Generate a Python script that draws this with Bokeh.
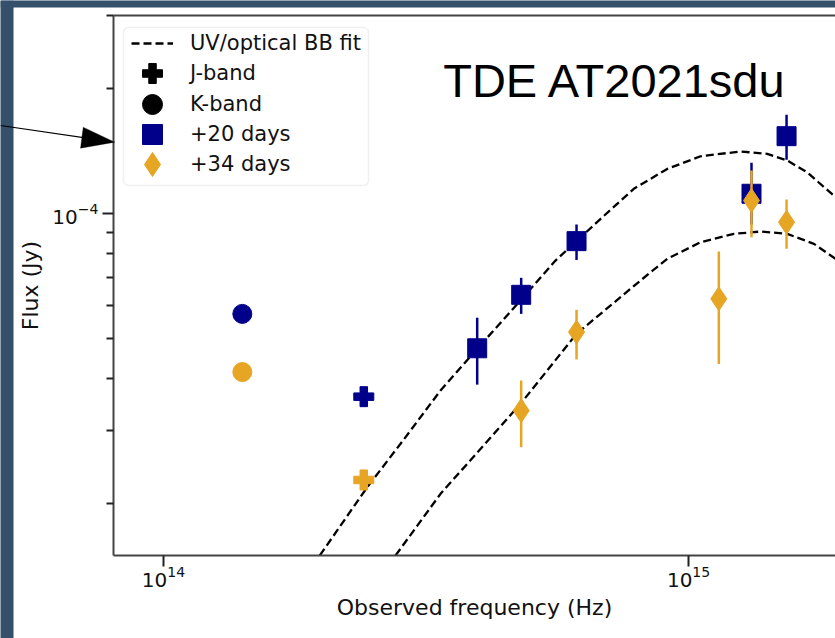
import numpy as np
from bokeh.plotting import figure
from bokeh.models import (Range1d, LinearAxis, FixedTicker, Legend, LegendItem,
                          Label, BoxAnnotation, PolyAnnotation)
from bokeh.embed import file_html
from bokeh.resources import INLINE

# ---------------- data ----------------
k_nu = [1.413e14]
k_flux_20 = [5.73e-5]
k_flux_34 = [4.15e-5]

j_nu = [2.407e14]
j_flux_20 = [3.62e-5]
j_flux_34 = [2.28e-5]

d20_nu = [3.958e14, 4.800e14, 6.119e14, 1.318e15, 1.537e15]
d20_flux = [4.735e-5, 6.37e-5, 8.58e-5, 1.116e-4, 1.536e-4]
d20_lo = [3.87e-5, 5.73e-5, 7.73e-5, 9.41e-5, 1.347e-4]
d20_hi = [5.61e-5, 7.00e-5, 9.41e-5, 1.325e-4, 1.729e-4]

d34_nu = [4.800e14, 6.119e14, 1.142e15, 1.318e15, 1.537e15]
d34_flux = [3.35e-5, 5.18e-5, 6.23e-5, 1.075e-4, 9.53e-5]
d34_lo = [2.735e-5, 4.45e-5, 4.34e-5, 8.77e-5, 8.22e-5]
d34_hi = [3.96e-5, 5.86e-5, 8.10e-5, 1.269e-4, 1.081e-4]

fit20_nu = [1.985e14, 2.443e14, 2.828e14, 3.370e14, 3.958e14, 4.786e14,
            5.580e14, 6.800e14, 7.866e14, 9.108e14, 1.054e15, 1.256e15, 1.412e15,
            1.542e15, 1.683e15, 1.905e15]
fit20_flux = [1.50e-5, 2.190e-5, 2.787e-5, 3.746e-5, 4.721e-5, 6.172e-5,
              7.703e-5, 9.709e-5, 1.147e-4, 1.281e-4, 1.374e-4, 1.411e-4, 1.393e-4,
              1.342e-4, 1.257e-4, 1.095e-4]

fit34_nu = [2.767e14, 3.370e14, 4.786e14, 6.119e14, 7.420e14, 8.101e14,
            9.108e14, 1.054e15, 1.220e15, 1.371e15, 1.542e15, 1.733e15, 1.905e15]
fit34_flux = [1.50e-5, 2.111e-5, 3.478e-5, 5.130e-5, 6.286e-5, 6.896e-5,
              7.776e-5, 8.527e-5, 8.935e-5, 9.048e-5, 8.935e-5, 8.453e-5, 7.776e-5]

x_ticks = [1e14, 1e15]
y_ticks = [1e-4]
y_minor_ticks = [2e-5, 3e-5, 4e-5, 5e-5, 6e-5, 7e-5, 8e-5, 9e-5, 2e-4, 3e-4]

# axes box (data limits of the original plot) and the whole slide crop
x_lo, x_hi = 8.03e13, 1.905e15
y_lo, y_hi = 1.5e-5, 3.0e-4
x_view_lo = 4.893e13
y_view_lo, y_view_hi = 9.461e-6, 3.261e-4

title_text = "TDE AT2021sdu"
x_label = "Observed frequency (Hz)"
y_label = "Flux (Jy)"
legend_labels = ["UV/optical BB fit", "J-band", "K-band", "+20 days", "+34 days"]

NAVY = "#00008B"
GOLD = "#E6A523"
SPINE = "#444444"
SLIDE = "#34506B"
FONT = "DejaVu Sans"
NAN = float("nan")

# ---------------- figure ----------------
# The frame covers the whole canvas (the slide margin and arrow live in it too);
# the axes are pinned at the original plot-box edges.
p = figure(width=835, height=638, x_axis_type="log", y_axis_type="log",
           x_range=Range1d(x_view_lo, x_hi), y_range=Range1d(y_view_lo, y_view_hi),
           output_backend="svg", toolbar_location=None,
           min_border_left=0, min_border_right=0, min_border_top=0,
           min_border_bottom=0)
p.grid.visible = False
p.outline_line_color = None
p.background_fill_color = "white"
p.border_fill_color = "white"

main_x = p.xaxis[0]
main_y = p.yaxis[0]


def bare_axis(**kw):
    return LinearAxis(ticker=FixedTicker(ticks=[]), major_tick_in=0, major_tick_out=0,
                      minor_tick_in=0, minor_tick_out=0, major_label_standoff=0, **kw)


for ax in (main_x, main_y):
    ax.axis_line_color = SPINE
    ax.axis_line_width = 2
    ax.major_tick_line_color = "#222222"
    ax.minor_tick_line_color = "#222222"
    ax.major_tick_line_width = 2
    ax.minor_tick_line_width = 2
    ax.major_tick_in = 0
    ax.major_tick_out = 11
    ax.minor_tick_in = 0
    ax.minor_tick_out = 7
    ax.major_label_text_font = FONT
    ax.major_label_text_font_size = "20px"
    ax.major_label_text_color = "#111111"
    ax.axis_label_text_font = FONT
    ax.axis_label_text_font_size = "22px"
    ax.axis_label_text_font_style = "normal"
    ax.axis_label_text_color = "#111111"

main_x.ticker = FixedTicker(ticks=x_ticks, minor_ticks=[])
main_x.axis_label = x_label
main_x.major_label_standoff = 0
main_x.axis_label_standoff = 4
main_x.fixed_location = y_lo
main_x.bounds = (x_lo, x_hi)

main_y.ticker = FixedTicker(ticks=y_ticks, minor_ticks=y_minor_ticks)
main_y.axis_label = y_label
main_y.major_label_standoff = 4
main_y.axis_label_standoff = 6
main_y.fixed_location = x_lo
main_y.bounds = (y_lo, y_hi)

# top spine of the plot box
p.add_layout(bare_axis(axis_line_color=SPINE, axis_line_width=2,
                       fixed_location=y_hi, bounds=(x_lo, x_hi)), "above")

# slide background strips (left and top), drawn as thick bare axis lines
p.add_layout(bare_axis(fixed_location=x_view_lo, axis_line_color=SLIDE,
                       axis_line_width=26), "left")
p.add_layout(bare_axis(fixed_location=y_view_hi, axis_line_color=SLIDE,
                       axis_line_width=14), "above")

# ---------------- glyphs ----------------
r_fit20 = p.line(fit20_nu, fit20_flux, line_color="black", line_width=2.3, line_dash="8 4")
p.line(fit34_nu, fit34_flux, line_color="black", line_width=2.3, line_dash="8 4")

p.scatter(k_nu, k_flux_20, marker="circle", size=19, color=NAVY)
p.scatter(k_nu, k_flux_34, marker="circle", size=19, color=GOLD)
p.scatter(j_nu, j_flux_20, marker="plus", size=20, color=NAVY)
p.scatter(j_nu, j_flux_34, marker="plus", size=20, color=GOLD)

p.segment(d20_nu, d20_lo, d20_nu, d20_hi, line_color=NAVY, line_width=2.5)
r_sq = p.scatter(d20_nu, d20_flux, marker="square", size=19, color=NAVY)
p.segment(d34_nu, d34_lo, d34_nu, d34_hi, line_color=GOLD, line_width=2.5)
r_dm = p.scatter(d34_nu, d34_flux, marker="diamond", size=24, color=GOLD)

# legend-only symbols (black), no data points
r_jleg = p.scatter([NAN], [NAN], marker="plus", size=20, color="black")
r_kleg = p.scatter([NAN], [NAN], marker="circle", size=20, color="black")

# one single-entry legend per row so that the symbols get matplotlib-like sizes
legend_specs = [
    (legend_labels[0], r_fit20, 42, 30, (131, 580), 17),
    (legend_labels[1], r_jleg, 50, 50, (127, 540), 13),
    (legend_labels[2], r_kleg, 50, 50, (127, 509), 13),
    (legend_labels[3], r_sq, 50, 50, (127, 479), 13),
    (legend_labels[4], r_dm, 60, 60, (122, 444), 8),
]
for lab, rend, gw, gh, loc, stand in legend_specs:
    lg = Legend(items=[LegendItem(label=lab, renderers=[rend])], location=loc,
                glyph_width=gw, glyph_height=gh, padding=0, margin=0, spacing=0,
                label_standoff=stand, border_line_color=None,
                background_fill_alpha=0, label_text_font=FONT,
                label_text_font_size="21px", label_text_color="#111111")
    p.add_layout(lg)

p.add_layout(BoxAnnotation(left=123, right=368, bottom=453, top=611,
                           left_units="screen", right_units="screen",
                           bottom_units="screen", top_units="screen",
                           fill_alpha=0, line_color="#cccccc", line_width=1.5,
                           border_radius=5))

p.add_layout(Label(x=3.41e14, y=2.092e-4, text=title_text,
                   text_font="Liberation Sans", text_font_size="47px",
                   text_color="black", text_baseline="alphabetic"))

# the pointing arrow (screen px)
p.add_layout(PolyAnnotation(xs=[0, 83, 83, 0], ys=[513.6, 501.4, 500.2, 512.4],
                            xs_units="screen", ys_units="screen",
                            fill_color="black", fill_alpha=1, line_color=None))
p.add_layout(PolyAnnotation(xs=[114.3, 82.7, 80], ys=[496.3, 511.3, 490.3],
                            xs_units="screen", ys_units="screen",
                            fill_color="black", fill_alpha=1, line_color="black",
                            line_width=1))

open("out.html", "w").write(file_html(p, INLINE))
